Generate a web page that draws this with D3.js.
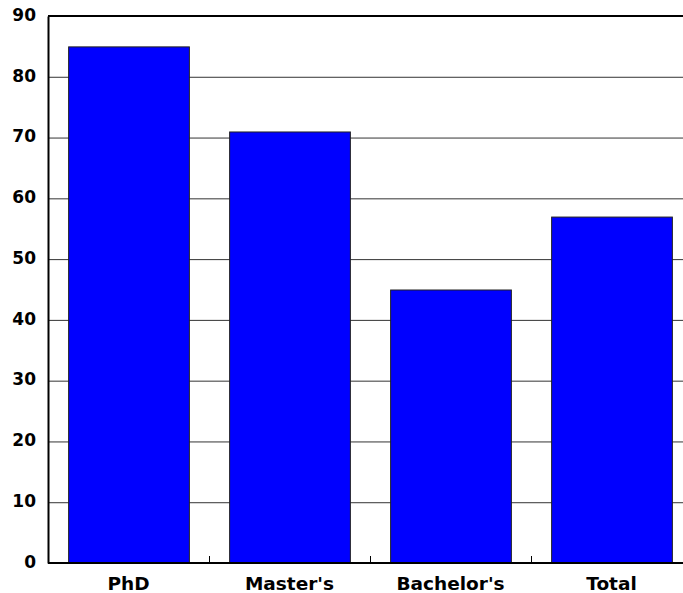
<!DOCTYPE html>
<html>
<head>
<meta charset="utf-8">
<script src="https://cdn.jsdelivr.net/npm/d3@7"></script>
<style>
  body { margin: 0; background: #fff; overflow: hidden; }
  text { font-family: "DejaVu Sans", sans-serif; font-weight: bold; }
</style>
</head>
<body>
<div id="chart"></div>
<script>
// Data
const categories = ["PhD", "Master's", "Bachelor's", "Total"];
const values = [85, 71, 45, 57];
const yTicks = [0, 10, 20, 30, 40, 50, 60, 70, 80, 90];

// Plot area (the right edge runs past the window, like the reference)
const margin = { top: 16, left: 48 },
    width = 644,
    height = 547;

const svg = d3.select("#chart")
    .append("svg")
    .attr("width", 683)
    .attr("height", 593);

const g = svg.append("g")
    .attr("transform", `translate(${margin.left},${margin.top})`);

const x = d3.scaleBand()
    .domain(categories)
    .range([0, width])
    .paddingInner(0.25)
    .paddingOuter(0.125);

const y = d3.scaleLinear()
    .domain([0, 90])
    .range([height, 0]);

// gridlines
g.selectAll(".grid")
    .data(yTicks.slice(1, -1))
    .enter()
    .append("line")
    .attr("x1", 0)
    .attr("x2", width)
    .attr("y1", d => y(d) + 0.5)
    .attr("y2", d => y(d) + 0.5)
    .attr("stroke", "#333")
    .attr("stroke-width", 1);

// top border
g.append("line")
    .attr("x1", 0).attr("x2", width)
    .attr("y1", y(90)).attr("y2", y(90))
    .attr("stroke", "#000")
    .attr("stroke-width", 2);

// bars
g.selectAll(".bar")
    .data(values)
    .enter()
    .append("rect")
    .attr("x", (d, i) => x(categories[i]) + 0.5)
    .attr("y", d => y(d) + 0.5)
    .attr("width", x.bandwidth())
    .attr("height", d => height - y(d))
    .attr("fill", "#0000ff")
    .attr("stroke", "#222")
    .attr("stroke-width", 1);

// y axis
const yAxis = g.append("g")
    .call(d3.axisLeft(y).tickValues(yTicks).tickSize(0).tickPadding(12));
yAxis.select(".domain").attr("stroke", "#000").attr("stroke-width", 2);
yAxis.selectAll("text")
    .style("font-family", "'DejaVu Sans', sans-serif")
    .style("font-weight", "bold")
    .style("font-size", "17px")
    .attr("dy", "0.25em")
    .attr("fill", "#000");

// x axis with tick marks between categories, pointing up
const step = x.step();
const boundaries = categories.slice(1).map(c => x(c) - x.paddingInner() * step / 2);
g.selectAll(".xtick")
    .data(boundaries)
    .enter()
    .append("line")
    .attr("x1", d => d + 0.5)
    .attr("x2", d => d + 0.5)
    .attr("y1", height)
    .attr("y2", height - 7)
    .attr("stroke", "#000");

g.append("line")
    .attr("x1", 0).attr("x2", width)
    .attr("y1", height).attr("y2", height)
    .attr("stroke", "#000")
    .attr("stroke-width", 2);

g.selectAll(".xlabel")
    .data(categories)
    .enter()
    .append("text")
    .attr("x", d => x(d) + x.bandwidth() / 2)
    .attr("y", height + 27)
    .attr("text-anchor", "middle")
    .style("font-size", "18.5px")
    .text(d => d);
</script>
</body>
</html>
